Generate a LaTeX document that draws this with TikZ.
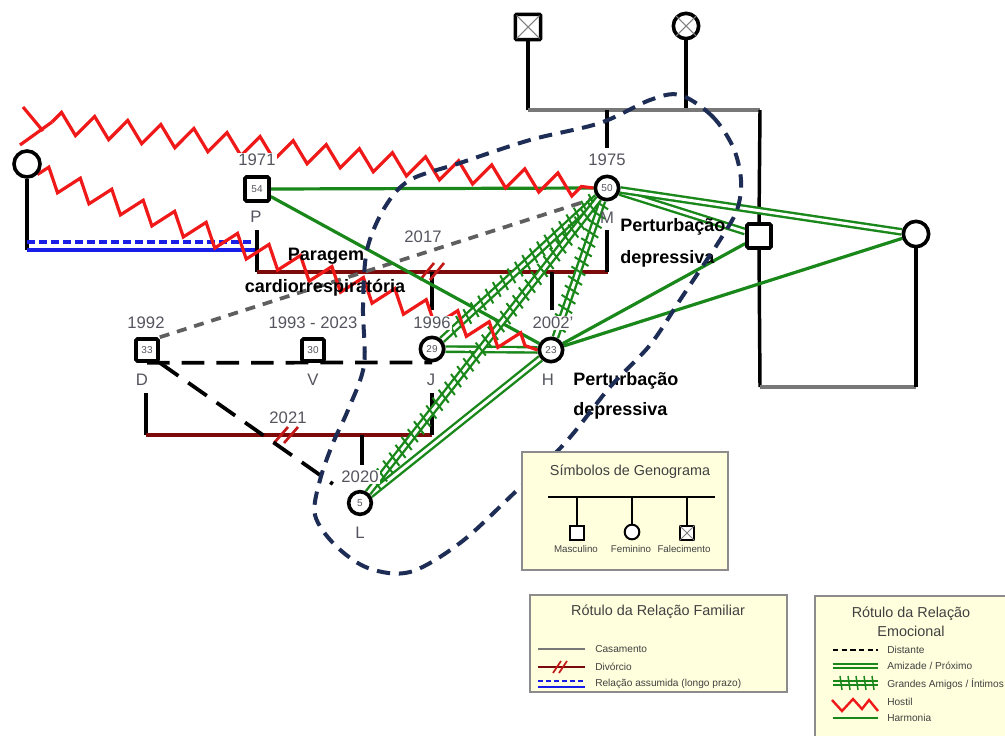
\documentclass[tikz,border=0pt]{standalone}
\usepackage{fontspec}
\setmainfont{Liberation Sans}
\usetikzlibrary{decorations.pathmorphing,decorations.markings,backgrounds,calc}
\definecolor{gr}{RGB}{25,135,25}
\definecolor{dred}{RGB}{125,10,10}
\definecolor{hred}{RGB}{240,25,25}
\definecolor{mred}{RGB}{195,25,25}
\definecolor{navy}{RGB}{30,45,85}
\definecolor{lblue}{RGB}{25,30,230}
\definecolor{lab}{RGB}{85,85,95}
\definecolor{cream}{RGB}{255,255,222}
\definecolor{mgrey}{RGB}{120,120,120}
\definecolor{dgrey}{RGB}{95,95,95}
\definecolor{legframe}{RGB}{140,140,140}
\begin{document}
\begin{tikzpicture}[x=0.75pt,y=-0.75pt,
  sqn/.style={draw, line width=2.7pt, fill=white, minimum size=16.5pt, inner sep=0pt, rounded corners=1pt, font=\fontsize{7.5}{7.5}\selectfont, text=lab},
  cin/.style={circle, draw, line width=2.7pt, fill=white, minimum size=17.5pt, inner sep=0pt, font=\fontsize{7.5}{7.5}\selectfont, text=lab},
  yr/.style={font=\fontsize{12.5}{12.5}\selectfont, text=lab, fill=white, inner sep=1pt},
  nm/.style={font=\fontsize{12.5}{12.5}\selectfont, text=lab, inner sep=1pt},
  note/.style={font=\bfseries\fontsize{13.5}{13.5}\selectfont, inner sep=0pt},
  fam/.style={line width=2.6pt, draw=black},
  marr/.style={line width=2.6pt, draw=mgrey},
  divl/.style={line width=2.6pt, draw=dred},
  hashm/.style={line width=2pt, draw=mred},
  harm/.style={draw=gr, line width=2.4pt},
  amiz/.style={draw=gr, line width=1.8pt, double=white, double distance=2.2pt},
  ticks/.style={decorate, decoration={markings, mark=between positions 0.03 and 0.97 step 7.5pt with {\draw[gr, line width=1.5pt] (-1.5pt,-6pt)--(1.5pt,6pt);}}},
  host/.style={draw=hred, line width=2.4pt, decorate, decoration={zigzag, segment length=25pt, amplitude=8pt}},
  dist/.style={draw=dgrey, line width=2.8pt, dash pattern=on 7.5pt off 6pt},
  bdash/.style={draw=black, line width=2.8pt, dash pattern=on 17pt off 9pt},
  legbox/.style={draw=legframe, line width=1.2pt, fill=cream},
  legt/.style={font=\fontsize{10.8}{12}\selectfont, text=black!75},
  legi/.style={font=\fontsize{7.6}{8}\selectfont, text=black!75, anchor=west, inner sep=0pt},
  symt/.style={font=\fontsize{7.3}{8}\selectfont, text=black!75, inner sep=0pt},
]
\useasboundingbox (0,0) rectangle (1005,735);
\clip (0,0) rectangle (1005,735);

% ---------- persons ----------
\node[sqn, minimum size=19pt] (gA) at (528,27) {};
\node[cin, minimum size=19pt] (gB) at (686,26) {};
\node[cin, minimum size=19.5pt] (lc) at (27,164) {};
\node[sqn, minimum size=18pt] (P) at (257,189) {54};
\node[cin] (M) at (607,188) {50};
\node[sqn, minimum size=18pt] (rs) at (759,236) {};
\node[cin, minimum size=19pt] (rc) at (916,234) {};
\node[sqn] (D) at (147,350) {33};
\node[sqn] (V) at (313,350) {30};
\node[cin] (J) at (432,349) {29};
\node[cin] (H) at (551,350) {23};
\node[cin, minimum size=17pt] (L) at (360,503) {5};
\draw[gray, line width=0.8pt] ($(gA.north west)+(3,3)$) -- ($(gA.south east)+(-3,-3)$)
  ($(gA.north east)+(-3,3)$) -- ($(gA.south west)+(3,-3)$);
\draw[gray, line width=0.8pt] (gB.45) -- (gB.225) (gB.135) -- (gB.315);

% ---------- labels ----------
\node[yr] (yP) at (257,160) {1971};
\node[nm] (nP) at (256,217) {P};
\node[yr] (yM) at (607,160) {1975};
\node[nm] (nM) at (607,218) {M};
\node[yr] (yJ) at (432,323) {1996};
\node[nm] (nJ) at (431,380) {J};
\node[yr] (yH) at (553,323) {2002'};
\node[nm] (nH) at (548,380) {H};
\node[yr] (yD) at (146,323) {1992};
\node[nm] (nD) at (142,380) {D};
\node[yr] (yV) at (313,323) {1993 - 2023};
\node[nm] (nV) at (313,380) {V};
\node[yr] (yL) at (360,477) {2020};
\node[nm] (nL) at (360,533) {L};
\node[yr] (y17) at (423,237) {2017};
\node[yr] (y21) at (288,418) {2021};

\node[note] (n1) at (326,256) {Paragem};
\node[note] (n2) at (325,288) {cardiorrespiratória};
\node[note, anchor=west] (n3) at (620,227) {Perturbação};
\node[note, anchor=west] (n4) at (620,259) {depressiva};
\node[note, anchor=west] (n5) at (573,381) {Perturbação};
\node[note, anchor=west] (n6) at (573,411) {depressiva};

\coordinate (h1) at (52,122);
\coordinate (h0) at (20,145);
\coordinate (hk) at (23,107);
\coordinate (hv) at (43,131);

\begin{scope}[on background layer]
\fill[white] (0,0) rectangle (1005,735);
% family structure
\draw[fam] (gA.south) -- (528,110);
\draw[fam] (gB.south) -- (686,110);
\draw[marr] (528,110) -- (760,110);
\draw[fam] (607,110) -- (607,148);
\draw[fam] (760,110) -- (rs.north);
\draw[fam] (rs.south) -- (760,387);
\draw[marr] (760,387) -- (916,387);
\draw[fam] (916,387) -- (rc.south);
\draw[fam] (lc.south) -- (27,250);
\draw[lblue, line width=2.6pt] (27,250) -- (257,250);
\draw[lblue, line width=2.6pt, dash pattern=on 6pt off 3pt] (27,242) -- (257,242);
\draw[fam] (257,230) -- (257,272);
\draw[divl] (257,272) -- (608,272);
\draw[fam] (607,230) -- (607,272);
\draw[fam] (432,272) -- (432,310);
\draw[fam] (552,272) -- (552,310);
\draw[hashm] (420,280) -- (434,263) (430,280) -- (444,263);
\draw[bdash] (D.south) -- (J.south);
\draw[fam] (146,393) -- (146,435);
\draw[divl] (146,435) -- (432,435);
\draw[fam] (432,393) -- (432,435);
\draw[fam] (362,435) -- (362,465);
\draw[hashm] (274,443) -- (288,427) (284,443) -- (298,427);
% emotional relations
\draw[dist] (D.north east) -- (M.south west);
\draw[bdash, shorten >=15pt] (D.south east) -- (L);
\draw[harm] (P.east) -- (M.west);
\draw[harm] (P) -- (H);
\draw[harm] (H) -- (rs);
\draw[harm] (H) -- (rc);
\draw[amiz] (M) -- (rs);
\draw[amiz] (M) -- (rc);
\draw[amiz] (J) -- (H);
\draw[amiz] (H) -- (L);
\draw[amiz] (M) -- (J);
\path[ticks] (M) -- (J);
\draw[amiz] (M) -- (H);
\path[ticks] (M) -- (H);
\draw[amiz] (M) -- (L);
\path[ticks] (M) -- (L);
\draw[host] (h1) -- (M.west);
\draw[hred, line width=2.4pt, line join=round] (h0) -- (h1) (hk) -- (hv);
\draw[host] (lc.south east) -- (H.west);
\end{scope}

% ---------- highlight curve ----------
\draw[navy, line width=3pt, dash pattern=on 10pt off 6.5pt]
  plot[smooth cycle, tension=0.55] coordinates {
  (680,95) (712,116) (733,147) (741,180) (737,210) (720,240) (700,270) (680,300)
  (650,345) (610,387) (565,443) (510,497) (460,543) (410,572) (368,568)
  (335,545) (315,515) (320,480) (333,443) (348,410) (364,365) (363,307)
  (367,250) (385,207) (410,180) (460,163) (530,140) (600,123) (650,100)};

% ---------- legend 1 ----------
\draw[legbox] (522,452) rectangle (728,570);
\node[legt] (L1t) at (630,472) {Símbolos de Genograma};
\draw[line width=1.6pt] (548,497) -- (715,497);
\draw[line width=1.6pt] (577,497) -- (577,526) (632,497) -- (632,525) (687,497) -- (687,526);
\node[draw, line width=1.5pt, fill=white, minimum size=10pt, inner sep=0pt] (s1) at (577,533) {};
\node[circle, draw, line width=1.5pt, fill=white, minimum size=11pt, inner sep=0pt] (s2) at (632,532) {};
\node[draw, line width=1.5pt, fill=white, minimum size=10pt, inner sep=0pt] (s3) at (687,533) {};
\draw[gray, line width=0.6pt] (s3.north west) -- (s3.south east) (s3.north east) -- (s3.south west);
\node[symt] (s1t) at (576,549) {Masculino};
\node[symt] (s2t) at (631,549) {Feminino};
\node[symt] (s3t) at (684,549) {Falecimento};

% ---------- legend 2 ----------
\draw[legbox] (530,595) rectangle (787,692);
\node[legt] (L2t) at (658,612) {Rótulo da Relação Familiar};
\draw[mgrey, line width=1.6pt] (538,649) -- (585,649);
\node[legi] (L2a) at (595,649) {Casamento};
\draw[dred, line width=1.6pt] (538,667) -- (585,667);
\draw[mred, line width=1.3pt] (553,673) -- (561,661) (559,673) -- (567,661);
\node[legi] (L2b) at (595,667) {Divórcio};
\draw[lblue, line width=1.6pt, dash pattern=on 4pt off 2pt] (538,681) -- (585,681);
\draw[lblue, line width=1.6pt] (538,687) -- (585,687);
\node[legi] (L2c) at (595,684) {Relação assumida (longo prazo)};

% ---------- legend 3 ----------
\draw[legbox] (815,596) rectangle (1015,750);
\node[legt] (L3t) at (911,614) {Rótulo da Relação};
\node[legt] (L3u) at (911,631) {Emocional};
\draw[black, line width=1.6pt, dash pattern=on 4pt off 2.5pt] (833,650) -- (878,650);
\node[legi] (L3a) at (887,650) {Distante};
\draw[gr, line width=1.2pt, double=cream, double distance=1.6pt] (833,666) -- (878,666);
\node[legi] (L3b) at (887,666) {Amizade / Próximo};
\draw[gr, line width=1.2pt, double=cream, double distance=1.6pt] (833,683) -- (878,683);
\draw[gr, line width=1.1pt] (840,676) -- (842,690) (848,676) -- (850,690) (856,676) -- (858,690) (864,676) -- (866,690) (872,676) -- (874,690);
\node[legi] (L3c) at (887,684) {Grandes Amigos / Íntimos};
\draw[hred, line width=1.8pt] (832,700) -- (842,711) -- (853,699) -- (862,709) -- (869,700) -- (878,711);
\node[legi] (L3d) at (887,702) {Hostil};
\draw[gr, line width=1.8pt] (833,718) -- (878,718);
\node[legi] (L3e) at (887,718) {Harmonia};
\end{tikzpicture}
\end{document}
